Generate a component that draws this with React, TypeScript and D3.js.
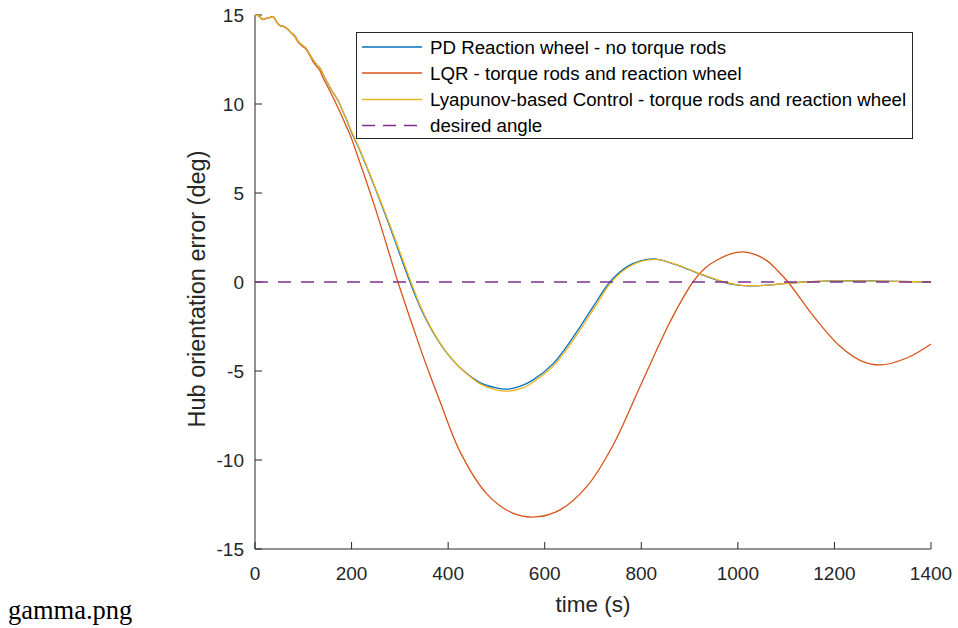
import React from "react";
import * as d3 from "d3";

const xTicks = [0, 200, 400, 600, 800, 1000, 1200, 1400];
const yTicks = [-15, -10, -5, 0, 5, 10, 15];

const seriesNames = [
  "PD Reaction wheel - no torque rods",
  "LQR - torque rods and reaction wheel",
  "Lyapunov-based Control - torque rods and reaction wheel",
  "desired angle",
];
const seriesColors = ["#0072BD", "#D95319", "#EDB120", "#7E2F8E"];

const pdT = [0, 8, 15, 22, 30, 38, 45, 52, 60, 68, 75, 82, 90, 98, 105, 112, 120, 128, 135, 142, 150, 158, 165, 172, 180, 190, 200, 217, 244, 280, 321, 342, 362, 383, 405, 430, 466, 500, 521, 550, 576, 617, 659, 700, 735, 770, 800, 828, 873, 921, 969, 1000, 1025, 1060, 1100, 1135, 1180, 1230, 1280, 1330, 1400];
const pdV = [15, 14.95, 14.75, 14.8, 14.85, 14.9, 14.6, 14.4, 14.35, 14.2, 14.0, 13.85, 13.5, 13.3, 13.15, 12.85, 12.5, 12.2, 12.0, 11.6, 11.2, 10.8, 10.5, 10.2, 9.7, 9.1, 8.4, 7.4, 5.6, 3.05, 0, -1.4, -2.5, -3.45, -4.25, -4.95, -5.65, -5.95, -6.02, -5.85, -5.5, -4.6, -3.1, -1.4, 0, 0.85, 1.2, 1.3, 0.96, 0.45, 0, -0.18, -0.22, -0.18, -0.08, 0, 0.05, 0.07, 0.06, 0.03, 0];

const lqrT = [0, 8, 15, 22, 30, 38, 45, 52, 60, 68, 75, 82, 90, 98, 105, 112, 120, 128, 135, 142, 150, 163, 176, 190, 200, 211, 230, 252, 274, 296, 320, 342, 362, 383, 424, 480, 535, 580, 632, 687, 741, 797, 853, 880, 907, 933, 956, 985, 1011, 1035, 1060, 1082, 1104, 1130, 1156, 1211, 1253, 1294, 1350, 1400];
const lqrV = [15, 14.95, 14.75, 14.8, 14.85, 14.9, 14.6, 14.4, 14.35, 14.2, 14.0, 13.8, 13.45, 13.25, 13.1, 12.8, 12.4, 12.1, 11.85, 11.4, 11.0, 10.3, 9.55, 8.7, 8.05, 7.2, 5.7, 3.9, 1.95, 0, -1.95, -3.7, -5.2, -6.7, -9.5, -11.9, -13.0, -13.2, -12.8, -11.5, -9.2, -5.9, -2.6, -1.2, 0, 0.8, 1.22, 1.58, 1.69, 1.55, 1.2, 0.65, 0, -0.95, -1.9, -3.6, -4.4, -4.66, -4.27, -3.48];

const lyaT = [0, 8, 15, 22, 30, 38, 45, 52, 60, 68, 75, 82, 90, 98, 105, 112, 120, 128, 135, 142, 150, 158, 165, 172, 180, 190, 200, 217, 244, 280, 323, 344, 364, 385, 407, 432, 468, 502, 526, 555, 580, 620, 662, 703, 738, 773, 803, 832, 876, 924, 972, 1003, 1028, 1063, 1103, 1138, 1183, 1233, 1283, 1333, 1400];
const lyaV = [15, 14.95, 14.75, 14.8, 14.85, 14.9, 14.6, 14.4, 14.35, 14.2, 14.0, 13.85, 13.5, 13.3, 13.15, 12.85, 12.5, 12.2, 12.0, 11.6, 11.2, 10.8, 10.5, 10.2, 9.7, 9.1, 8.45, 7.45, 5.65, 3.15, 0, -1.45, -2.55, -3.5, -4.3, -5.0, -5.75, -6.08, -6.13, -5.95, -5.55, -4.65, -3.15, -1.45, 0, 0.83, 1.18, 1.27, 0.95, 0.44, 0, -0.17, -0.21, -0.17, -0.07, 0, 0.05, 0.06, 0.05, 0.03, 0];

const desiredT = [0, 1400];
const desiredV = [0, 0];

export default function App() {
  const x = d3.scaleLinear().domain([0, 1400]).range([255, 931]);
  const y = d3.scaleLinear().domain([-15, 15]).range([549, 15]);
  const line = d3
    .line<[number, number]>()
    .x((d) => x(d[0]))
    .y((d) => y(d[1]))
    .curve(d3.curveCatmullRom.alpha(0.5));
  const zip = (t: number[], v: number[]) => t.map((ti, i) => [ti, v[i]] as [number, number]);
  const axisColor = "#262626";
  const font = "'Liberation Sans', Arial, Helvetica, sans-serif";
  const series = [zip(pdT, pdV), zip(lqrT, lqrV), zip(lyaT, lyaV)];
  const legendRows = [47, 73, 99.5, 125.5];

  return (
    <svg
      width={958}
      height={628}
      style={{ position: "absolute", left: 0, top: 0, display: "block", background: "#fff" }}
    >
      <rect x={0} y={0} width={958} height={628} fill="#fff" />
      {/* axes */}
      <line x1={x(0)} x2={x(1400)} y1={y(-15)} y2={y(-15)} stroke={axisColor} strokeWidth={1} />
      <line x1={x(0)} x2={x(0)} y1={y(-15)} y2={y(15)} stroke={axisColor} strokeWidth={1} />
      {xTicks.map((t) => (
        <g key={"xt" + t}>
          <line x1={x(t)} x2={x(t)} y1={y(-15)} y2={y(-15) - 7} stroke={axisColor} strokeWidth={1} />
          <text x={x(t)} y={580} textAnchor="middle" fontFamily={font} fontSize={19} fill={axisColor}>
            {t}
          </text>
        </g>
      ))}
      {yTicks.map((v) => (
        <g key={"yt" + v}>
          <line x1={x(0)} x2={x(0) + 7} y1={y(v)} y2={y(v)} stroke={axisColor} strokeWidth={1} />
          <text x={244} y={y(v) + 7} textAnchor="end" fontFamily={font} fontSize={19} fill={axisColor}>
            {v}
          </text>
        </g>
      ))}
      <text x={593} y={612} textAnchor="middle" fontFamily={font} fontSize={22.5} fill={axisColor}>
        time (s)
      </text>
      <text
        transform={`translate(205,289) rotate(-90)`}
        textAnchor="middle"
        fontFamily={font}
        fontSize={23.5}
        fill={axisColor}
      >
        Hub orientation error (deg)
      </text>
      {/* data */}
      {series.map((s, i) => (
        <path key={"s" + i} d={line(s) || ""} fill="none" stroke={seriesColors[i]} strokeWidth={1.3} />
      ))}
      <path
        d={d3.line<[number, number]>().x((d) => x(d[0])).y((d) => y(d[1]))(zip(desiredT, desiredV)) || ""}
        fill="none"
        stroke={seriesColors[3]}
        strokeWidth={1.3}
        strokeDasharray="13,10"
      />
      {/* legend */}
      <rect x={356.5} y={32.5} width={556} height={106} fill="#fff" stroke={axisColor} strokeWidth={1} />
      {seriesNames.map((name, i) => (
        <g key={"lg" + i}>
          <line
            x1={362}
            x2={422}
            y1={legendRows[i]}
            y2={legendRows[i]}
            stroke={seriesColors[i]}
            strokeWidth={1.3}
            strokeDasharray={i === 3 ? "13,8" : undefined}
          />
          <text x={430} y={legendRows[i] + 6.5} fontFamily={font} fontSize={18.7} fill="#000">
            {name}
          </text>
        </g>
      ))}
      <text x={8} y={619} fontFamily="'Liberation Serif', 'Times New Roman', serif" fontSize={26.5} fill="#000">
        gamma.png
      </text>
    </svg>
  );
}
